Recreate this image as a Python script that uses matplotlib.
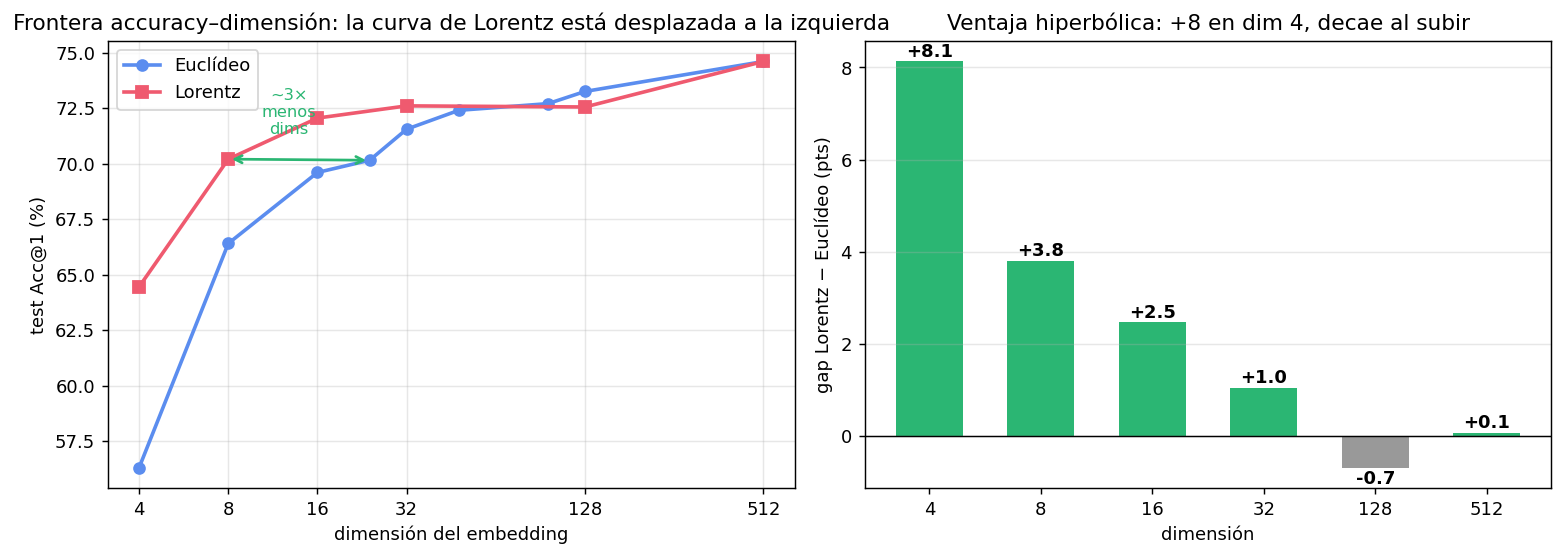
import numpy as np
import matplotlib
matplotlib.use("Agg")
from matplotlib import pyplot as plt

# datos
dims_euc = [4, 8, 16, 24, 32, 48, 96, 128, 512]
acc_euc = [56.3, 66.4, 69.6, 70.15, 71.55, 72.4, 72.7, 73.25, 74.6]
dims_lor = [4, 8, 16, 32, 128, 512]
acc_lor = [64.45, 70.2, 72.05, 72.6, 72.55, 74.6]

gap_dims = ["4", "8", "16", "32", "128", "512"]
gap_vals = [8.13, 3.8, 2.47, 1.04, -0.68, 0.07]

blue = "#5B8DEF"
red = "#EF5A6F"
green = "#2BB673"
gray = "#999999"

fig, (ax1, ax2) = plt.subplots(1, 2, figsize=(12.03, 4.285), dpi=130)
fig.subplots_adjust(left=0.069, right=0.992, top=0.926, bottom=0.124, wspace=0.102)

# --- frontera accuracy vs dim ---
ax1.plot(dims_euc, acc_euc, "-o", color=blue, lw=2, ms=6, label="Euclídeo")
ax1.plot(dims_lor, acc_lor, "-s", color=red, lw=2, ms=7, label="Lorentz")
ax1.set_xscale("log", base=2)
ax1.set_xticks(dims_lor)
ax1.set_xticklabels([str(d) for d in dims_lor])
ax1.minorticks_off()
ax1.annotate("", xy=(dims_lor[1], acc_lor[1]), xytext=(dims_euc[3], acc_euc[3]),
             arrowprops=dict(arrowstyle="<->", color=green, lw=1.5))
ax1.text(12.8, 72.3, "~3×\nmenos\ndims", color=green, fontsize=9,
         ha="center", va="center")
ax1.set_xlabel("dimensión del embedding")
ax1.set_ylabel("test Acc@1 (%)")
ax1.set_title("Frontera accuracy–dimensión: la curva de Lorentz está desplazada a la izquierda")
ax1.grid(True, alpha=0.3)
ax1.legend(loc="upper left")

# --- gap Lorentz - Euclideo ---
x = np.arange(len(gap_dims))
cols = [green if v > 0 else gray for v in gap_vals]
ax2.bar(x, gap_vals, width=0.6, color=cols)
ax2.axhline(0, color="black", lw=0.8)
for xi, v in zip(x, gap_vals):
    if v >= 0:
        ax2.text(xi, v + 0.02, f"+{v:.1f}", ha="center", va="bottom", fontweight="bold", fontsize=10)
    else:
        ax2.text(xi, v - 0.05, f"{v:.1f}", ha="center", va="top", fontweight="bold", fontsize=10)
ax2.set_xticks(x)
ax2.set_xticklabels(gap_dims)
ax2.set_xlabel("dimensión")
ax2.set_ylabel("gap Lorentz − Euclídeo (pts)")
ax2.set_title("Ventaja hiperbólica: +8 en dim 4, decae al subir")
ax2.grid(True, axis="y", alpha=0.3)

plt.savefig("out.png")
